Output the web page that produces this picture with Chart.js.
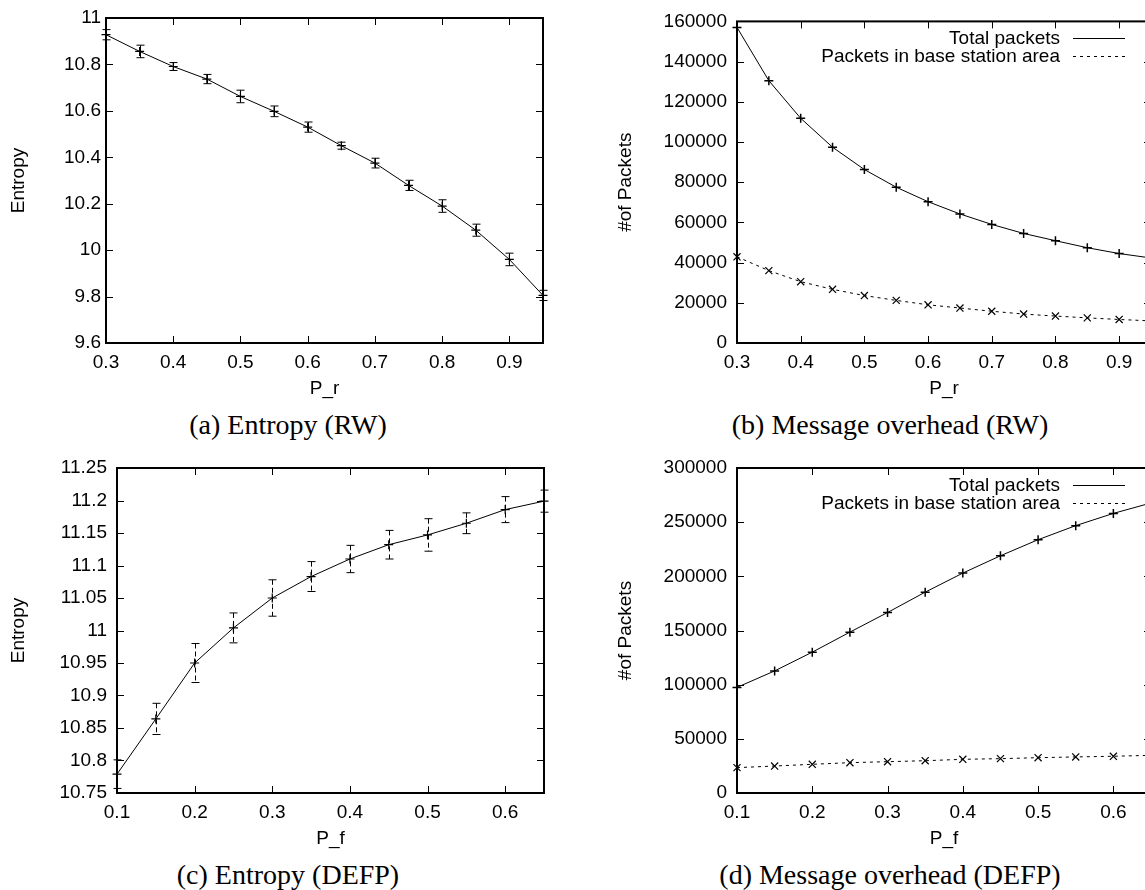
<!DOCTYPE html>
<html>
<head>
<meta charset="utf-8">
<title>Entropy and message overhead</title>
<script src="https://cdn.jsdelivr.net/npm/chart.js@4.4.1/dist/chart.umd.min.js"></script>
<style>
  html, body { margin: 0; padding: 0; background: #fff; overflow: hidden; }
  body { width: 1145px; height: 890px; position: relative; }
  canvas { position: absolute; }
  .caption {
    position: absolute;
    width: 500px;
    line-height: 32px;
    font-family: 'Liberation Serif', 'Times New Roman', serif;
    font-size: 28px;
    color: #000;
    text-align: center;
    white-space: nowrap;
  }
</style>
</head>
<body>
<canvas id="chartA" width="560" height="405" style="left:0;top:0"></canvas>
<canvas id="chartB" width="600" height="405" style="left:560px;top:0"></canvas>
<canvas id="chartC" width="560" height="410" style="left:0;top:445px"></canvas>
<canvas id="chartD" width="600" height="410" style="left:560px;top:445px"></canvas>
<div class="caption" style="left:38px;top:409px">(a) Entropy (RW)</div>
<div class="caption" style="left:640px;top:409px">(b) Message overhead (RW)</div>
<div class="caption" style="left:38px;top:859px">(c) Entropy (DEFP)</div>
<div class="caption" style="left:640px;top:859px">(d) Message overhead (DEFP)</div>
<script>
// ---- data ----
const pR = [0.3, 0.35, 0.4, 0.45, 0.5, 0.55, 0.6, 0.65, 0.7, 0.75, 0.8, 0.85, 0.9, 0.95];
const entropyRW = [10.928, 10.856, 10.791, 10.737, 10.662, 10.598, 10.53, 10.45, 10.375, 10.279, 10.19, 10.086, 9.96, 9.805];
const entropyRWErr = [0.022, 0.027, 0.017, 0.02, 0.027, 0.023, 0.022, 0.015, 0.021, 0.022, 0.027, 0.026, 0.027, 0.022];
const totalRW = [157000, 130500, 111800, 97400, 86300, 77500, 70300, 64200, 59000, 54500, 50900, 47400, 44500, 42300];
const baseRW = [42900, 36000, 30500, 26700, 23600, 21200, 19000, 17400, 15800, 14400, 13400, 12500, 11700, 11000];

const pF = [0.1, 0.15, 0.2, 0.25, 0.3, 0.35, 0.4, 0.45, 0.5, 0.55, 0.6, 0.65];
const entropyDEFP = [10.779, 10.864, 10.95, 11.004, 11.05, 11.083, 11.11, 11.132, 11.147, 11.165, 11.186, 11.199];
const entropyDEFPErr = [0.022, 0.024, 0.03, 0.023, 0.028, 0.023, 0.021, 0.022, 0.025, 0.016, 0.02, 0.017];
const totalDEFP = [97500, 112700, 130000, 148500, 166600, 185400, 203000, 219000, 233800, 246800, 258100, 267700];
const baseDEFP = [23400, 24900, 26500, 28000, 28900, 29800, 31100, 31700, 32600, 33300, 33900, 34800];

// tick labels
const xTicksRW = [0.3, 0.4, 0.5, 0.6, 0.7, 0.8, 0.9];
const xTicksDEFP = [0.1, 0.2, 0.3, 0.4, 0.5, 0.6];
const yTicksEntropyRW = [9.6, 9.8, 10, 10.2, 10.4, 10.6, 10.8, 11];
const yTicksEntropyDEFP = [10.75, 10.8, 10.85, 10.9, 10.95, 11, 11.05, 11.1, 11.15, 11.2, 11.25];
const yTicksPacketsRW = [0, 20000, 40000, 60000, 80000, 100000, 120000, 140000, 160000];
const yTicksPacketsDEFP = [0, 50000, 100000, 150000, 200000, 250000, 300000];

const labelTotal = 'Total packets';
const labelBase = 'Packets in base station area';

// ---- helpers ----
const FONT = "'Liberation Sans', Arial, Helvetica, sans-serif";
Chart.defaults.font.family = FONT;
Chart.defaults.font.size = 19;
Chart.defaults.color = '#000';

const pts = (xs, ys) => xs.map((x, i) => ({ x: x, y: ys[i] }));
const fmt = v => String(Number(v.toFixed(2)));

// error bars drawn through the chart's scales
const errorBars = {
  id: 'errorBars',
  afterDatasetsDraw(chart) {
    const { ctx, scales: { x, y } } = chart;
    chart.data.datasets.forEach(ds => {
      if (!ds.errorBars) return;
      ctx.save();
      ctx.strokeStyle = '#000';
      ctx.lineWidth = 1;
      ds.data.forEach((p, i) => {
        const e = ds.errorBars[i];
        const px = Math.round(x.getPixelForValue(p.x)) + 0.5;
        const top = y.getPixelForValue(p.y + e);
        const bot = y.getPixelForValue(p.y - e);
        ctx.setLineDash(ds.errorDash || []);
        ctx.beginPath();
        ctx.moveTo(px, top);
        ctx.lineTo(px, bot);
        ctx.stroke();
        ctx.setLineDash([]);
        ctx.beginPath();
        ctx.moveTo(px - 4, top); ctx.lineTo(px + 4, top);
        ctx.moveTo(px - 4, bot); ctx.lineTo(px + 4, bot);
        ctx.stroke();
      });
      ctx.restore();
    });
  }
};

// gnuplot style border with inward ticks on all four sides
const frame = {
  id: 'frame',
  afterDatasetsDraw(chart) {
    const { ctx, chartArea: a, scales: { x, y } } = chart;
    const len = 7;
    ctx.save();
    ctx.strokeStyle = '#000';
    ctx.lineWidth = 1;
    ctx.beginPath();
    x.ticks.forEach(t => {
      const px = Math.round(x.getPixelForValue(t.value)) + 0.5;
      ctx.moveTo(px, a.bottom); ctx.lineTo(px, a.bottom - len);
      ctx.moveTo(px, a.top); ctx.lineTo(px, a.top + len);
    });
    y.ticks.forEach(t => {
      const py = Math.round(y.getPixelForValue(t.value)) + 0.5;
      ctx.moveTo(a.left, py); ctx.lineTo(a.left + len, py);
      ctx.moveTo(a.right, py); ctx.lineTo(a.right - len, py);
    });
    ctx.stroke();
    ctx.lineWidth = 2;
    ctx.strokeRect(a.left, a.top, a.right - a.left, a.bottom - a.top);
    ctx.restore();
  }
};

// key in the top right corner, text right aligned, sample line after it
const gpLegend = {
  id: 'gpLegend',
  afterDraw(chart) {
    const { ctx, chartArea: a } = chart;
    ctx.save();
    ctx.font = '19px ' + FONT;
    ctx.fillStyle = '#000';
    ctx.strokeStyle = '#000';
    ctx.lineWidth = 1;
    ctx.textAlign = 'right';
    ctx.textBaseline = 'middle';
    chart.data.datasets.forEach((ds, i) => {
      const yy = Math.round(a.top + 17 + i * 18) + 0.5;
      ctx.fillText(ds.label, a.right - 91, yy);
      ctx.setLineDash(ds.borderDash || []);
      ctx.beginPath();
      ctx.moveTo(a.right - 78, yy);
      ctx.lineTo(a.right - 26, yy);
      ctx.stroke();
    });
    ctx.restore();
  }
};

function makeChart(id, cfg) {
  return new Chart(document.getElementById(id), {
    type: 'line',
    data: { datasets: cfg.datasets },
    options: {
      responsive: false,
      animation: false,
      devicePixelRatio: 1,
      layout: { padding: { top: cfg.top, right: cfg.right, left: 0, bottom: 0 } },
      plugins: { legend: { display: false }, tooltip: { enabled: false } },
      scales: {
        x: {
          type: 'linear',
          min: cfg.xMin,
          max: cfg.xMax,
          afterBuildTicks: s => { s.ticks = cfg.xTicks.map(v => ({ value: v })); },
          afterFit: s => { s.height = 62; },
          grid: { display: false, drawTicks: false },
          border: { display: false },
          ticks: { padding: 8, maxRotation: 0, callback: fmt },
          title: { display: true, text: cfg.xTitle, padding: { top: 0, bottom: 5 } }
        },
        y: {
          type: 'linear',
          min: cfg.yMin,
          max: cfg.yMax,
          afterBuildTicks: s => { s.ticks = cfg.yTicks.map(v => ({ value: v })); },
          afterFit: s => { s.width = cfg.left; },
          grid: { display: false, drawTicks: false },
          border: { display: false },
          ticks: { padding: cfg.yTickPad, callback: fmt },
          title: { display: true, text: cfg.yTitle, padding: { top: cfg.yTitlePad, bottom: 0 } }
        }
      }
    },
    plugins: cfg.legend ? [errorBars, frame, gpLegend] : [errorBars, frame]
  });
}

const lineStyle = {
  borderColor: '#000',
  borderWidth: 1,
  tension: 0,
  fill: false,
  clip: false,
  pointBorderColor: '#000',
  pointBackgroundColor: '#000'
};

// (a) Entropy (RW)
makeChart('chartA', {
  left: 106, top: 18, right: 17,
  xMin: 0.3, xMax: 0.95, xTicks: xTicksRW, xTitle: 'P_r',
  yMin: 9.6, yMax: 11, yTicks: yTicksEntropyRW, yTitle: 'Entropy',
  yTickPad: 5, yTitlePad: 7,
  datasets: [Object.assign({}, lineStyle, {
    label: 'Entropy',
    data: pts(pR, entropyRW),
    pointStyle: 'cross', pointRadius: 4.5, pointBorderWidth: 1.2,
    errorBars: entropyRWErr
  })]
});

// (b) Message overhead (RW)
makeChart('chartB', {
  left: 177, top: 18, right: 9, legend: true,
  xMin: 0.3, xMax: 0.95, xTicks: xTicksRW, xTitle: 'P_r',
  yMin: 0, yMax: 160000, yTicks: yTicksPacketsRW, yTitle: '#of Packets',
  yTickPad: 10, yTitlePad: 54,
  datasets: [
    Object.assign({}, lineStyle, {
      label: labelTotal,
      data: pts(pR, totalRW),
      pointStyle: 'cross', pointRadius: 4.5, pointBorderWidth: 1.5
    }),
    Object.assign({}, lineStyle, {
      label: labelBase,
      data: pts(pR, baseRW),
      borderDash: [3, 4],
      pointStyle: 'crossRot', pointRadius: 5, pointBorderWidth: 1.2
    })
  ]
});

// (c) Entropy (DEFP)
makeChart('chartC', {
  left: 117, top: 23, right: 16,
  xMin: 0.1, xMax: 0.65, xTicks: xTicksDEFP, xTitle: 'P_f',
  yMin: 10.75, yMax: 11.25, yTicks: yTicksEntropyDEFP, yTitle: 'Entropy',
  yTickPad: 10, yTitlePad: 7,
  datasets: [Object.assign({}, lineStyle, {
    label: 'Entropy',
    data: pts(pF, entropyDEFP),
    pointStyle: 'cross', pointRadius: 4.5, pointBorderWidth: 1.2,
    errorBars: entropyDEFPErr,
    errorDash: [5, 3]
  })]
});

// (d) Message overhead (DEFP)
makeChart('chartD', {
  left: 177, top: 23, right: 9, legend: true,
  xMin: 0.1, xMax: 0.65, xTicks: xTicksDEFP, xTitle: 'P_f',
  yMin: 0, yMax: 300000, yTicks: yTicksPacketsDEFP, yTitle: '#of Packets',
  yTickPad: 10, yTitlePad: 54,
  datasets: [
    Object.assign({}, lineStyle, {
      label: labelTotal,
      data: pts(pF, totalDEFP),
      pointStyle: 'cross', pointRadius: 4.5, pointBorderWidth: 1.5
    }),
    Object.assign({}, lineStyle, {
      label: labelBase,
      data: pts(pF, baseDEFP),
      borderDash: [3, 4],
      pointStyle: 'crossRot', pointRadius: 5, pointBorderWidth: 1.2
    })
  ]
});
</script>
</body>
</html>
